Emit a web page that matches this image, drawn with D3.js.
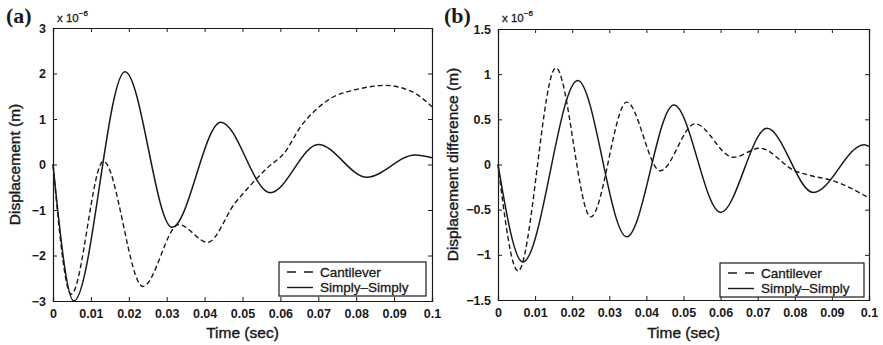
<!DOCTYPE html>
<html>
<head>
<meta charset="utf-8">
<script src="https://cdn.jsdelivr.net/npm/d3@7"></script>
<style>
  body { margin: 0; background: #fff; }
  svg { display: block; font-family: "Liberation Sans", Arial, sans-serif; }
</style>
</head>
<body>
<div id="chart"></div>
<script>
// Time ticks (sec)
const timeTicks = [0, 0.01, 0.02, 0.03, 0.04, 0.05, 0.06, 0.07, 0.08, 0.09, 0.1];

// (a) displacement, x 1e-6 m
const ssTimeA = [0, 0.0055, 0.019, 0.0314, 0.0443, 0.0573, 0.0700, 0.0828, 0.0955, 0.1];
const ssDispA = [0, -3.0, 2.04, -1.38, 0.93, -0.62, 0.44, -0.28, 0.21, 0.15];
const cantTimeA = [0, 0.0048, 0.0133, 0.0237, 0.0332, 0.0408, 0.048, 0.0525, 0.0566, 0.061, 0.0655, 0.070, 0.0743, 0.0787, 0.083, 0.0878, 0.0918, 0.096, 0.1];
const cantDispA = [0, -2.85, 0.07, -2.68, -1.32, -1.71, -0.85, -0.42, -0.07, 0.25, 0.85, 1.25, 1.50, 1.62, 1.70, 1.74, 1.69, 1.54, 1.27];
const yTicksA = [-3, -2, -1, 0, 1, 2, 3];

// (b) displacement difference, x 1e-6 m
const ssTimeB = [0, 0.0067, 0.0215, 0.0347, 0.0474, 0.0600, 0.0725, 0.0850, 0.0987, 0.1];
const ssDispB = [0, -1.08, 0.93, -0.80, 0.66, -0.53, 0.40, -0.31, 0.22, 0.20];
const cantTimeB = [0, 0.0054, 0.0156, 0.025, 0.0347, 0.0437, 0.0531, 0.0634, 0.0706, 0.080, 0.085, 0.0895, 0.1];
const cantDispB = [0, -1.18, 1.07, -0.58, 0.69, -0.07, 0.45, 0.08, 0.18, -0.07, -0.13, -0.17, -0.37];
const yTicksB = [-1.5, -1, -0.5, 0, 0.5, 1, 1.5];

const seriesNames = ["Cantilever", "Simply\u2013Simply"];

const svg = d3.select("#chart").append("svg")
    .attr("width", 883)
    .attr("height", 345);

const ink = "#1a1a1a";
const fmtTick = d => d3.format("")(d).replace("-", "\u2212");

function drawPanel(p) {
    const x = d3.scaleLinear().domain([0, 0.1]).range([p.left, p.right]);
    const y = d3.scaleLinear().domain(p.yDomain).range([p.bottom, p.top]);
    const g = svg.append("g");

    // axes, ticks pointing inward
    g.append("g")
        .attr("transform", `translate(0,${p.bottom})`)
        .call(d3.axisBottom(x).tickValues(timeTicks).tickSize(-4).tickPadding(8).tickFormat(fmtTick));
    g.append("g")
        .attr("transform", `translate(0,${p.top})`)
        .call(d3.axisTop(x).tickValues(timeTicks).tickSize(-4).tickFormat(""));
    g.append("g")
        .attr("transform", `translate(${p.left},0)`)
        .call(d3.axisLeft(y).tickValues(p.yTicks).tickSize(-4).tickPadding(7).tickFormat(fmtTick));
    g.append("g")
        .attr("transform", `translate(${p.right},0)`)
        .call(d3.axisRight(y).tickValues(p.yTicks).tickSize(-4).tickFormat(""));

    g.selectAll(".domain").attr("stroke", ink).attr("stroke-width", 1.2);
    g.selectAll(".tick line").attr("stroke", ink).attr("stroke-width", 1);
    g.selectAll(".tick text")
        .attr("fill", ink)
        .attr("font-size", "12.5px")
        .attr("font-weight", "bold")
        .attr("stroke", "none");

    const line = d3.line()
        .x(d => x(d[0]))
        .y(d => y(d[1]))
        .curve(d3.curveMonotoneX);

    g.append("path")
        .datum(d3.zip(p.cantT, p.cantV))
        .attr("fill", "none")
        .attr("stroke", ink)
        .attr("stroke-width", 1.4)
        .attr("stroke-dasharray", "5,3")
        .attr("d", line);

    g.append("path")
        .datum(d3.zip(p.ssT, p.ssV))
        .attr("fill", "none")
        .attr("stroke", ink)
        .attr("stroke-width", 1.5)
        .attr("d", line);

    // axis titles
    g.append("text")
        .attr("x", (p.left + p.right) / 2)
        .attr("y", 338)
        .attr("text-anchor", "middle")
        .attr("font-size", "15.5px")
        .attr("fill", ink)
        .attr("stroke", ink)
        .attr("stroke-width", 0.4)
        .text("Time (sec)");
    g.append("text")
        .attr("transform", `translate(${p.yLabelX},${(p.top + p.bottom) / 2}) rotate(-90)`)
        .attr("text-anchor", "middle")
        .attr("font-size", "15.5px")
        .attr("fill", ink)
        .attr("stroke", ink)
        .attr("stroke-width", 0.4)
        .text(p.yLabel);

    // exponent
    const ex = g.append("text")
        .attr("x", p.left + 4)
        .attr("y", 22)
        .attr("font-size", "11.5px")
        .attr("fill", ink)
        .attr("stroke", ink)
        .attr("stroke-width", 0.3);
    ex.append("tspan").text("x 10");
    ex.append("tspan").attr("dy", -6).attr("font-size", "8px").text("\u22126");

    // panel letter
    g.append("text")
        .attr("x", p.letterX)
        .attr("y", 23)
        .attr("font-family", "'Liberation Serif', 'Times New Roman', serif")
        .attr("font-weight", "bold")
        .attr("font-size", "22px")
        .attr("fill", ink)
        .text(p.letter);

    // legend
    const lg = g.append("g");
    lg.append("rect")
        .attr("x", p.legX).attr("y", p.legY)
        .attr("width", p.legW).attr("height", 34)
        .attr("fill", "#fff")
        .attr("stroke", ink)
        .attr("stroke-width", 1.2);
    seriesNames.forEach((name, i) => {
        const ry = p.legY + 10 + i * 15.5;
        lg.append("line")
            .attr("x1", p.legX + 8).attr("x2", p.legX + 34)
            .attr("y1", ry).attr("y2", ry)
            .attr("stroke", ink)
            .attr("stroke-width", 1.4)
            .attr("stroke-dasharray", i === 0 ? "9,8" : null);
        lg.append("text")
            .attr("x", p.legX + 41)
            .attr("y", ry + 4.5)
            .attr("font-size", "13.5px")
            .attr("fill", ink)
            .attr("stroke", ink)
            .attr("stroke-width", 0.3)
            .text(name);
    });
}

drawPanel({
    left: 53, right: 432, top: 28, bottom: 301,
    yDomain: [-3, 3], yTicks: yTicksA,
    ssT: ssTimeA, ssV: ssDispA, cantT: cantTimeA, cantV: cantDispA,
    yLabel: "Displacement (m)", yLabelX: 20,
    letter: "(a)", letterX: 6,
    legX: 279, legY: 262, legW: 147
});

drawPanel({
    left: 498, right: 869, top: 29, bottom: 300,
    yDomain: [-1.5, 1.5], yTicks: yTicksB,
    ssT: ssTimeB, ssV: ssDispB, cantT: cantTimeB, cantV: cantDispB,
    yLabel: "Displacement difference (m)", yLabelX: 458,
    letter: "(b)", letterX: 444,
    legX: 720, legY: 263, legW: 144
});
</script>
</body>
</html>
